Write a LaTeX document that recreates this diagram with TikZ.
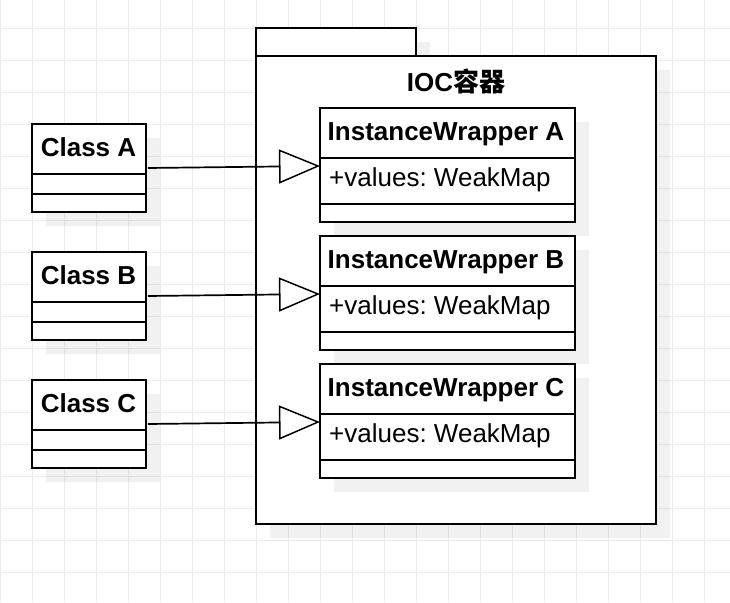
\documentclass[tikz,border=0pt]{standalone}
\usepackage{fontspec}
\setmainfont{Liberation Sans}
\newfontfamily\cjk{Noto Sans CJK SC}
\usetikzlibrary{arrows.meta}
\definecolor{gridc}{HTML}{EBEBEB}
\frenchspacing
\tikzset{
  umlbox/.style={draw, line width=2pt, fill=white, inner sep=0pt, outer sep=0pt, anchor=north west},
  shadowbox/.style={fill=black, fill opacity=0.055},
  divline/.style={line width=2pt},
  lblb/.style={font=\fontsize{26}{30}\selectfont\bfseries, inner sep=0pt},
  lblr/.style={font=\fontsize{26}{30}\selectfont, inner sep=0pt},
  inh/.style={line width=1.7pt, -{Triangle[open, length=41pt, width=34pt, line width=1.5pt]}},
}
\begin{document}
\begin{tikzpicture}[x=1pt,y=-1pt]
\useasboundingbox (0,0) rectangle (730,602);
\fill[white] (0,0) rectangle (730,602);
% grid
\foreach \x in {0,32,...,704} \draw[gridc, line width=1pt] (\x+0.5,0) -- (\x+0.5,602);
\foreach \y in {28,60,...,588} \draw[gridc, line width=1pt] (0,\y+0.5) -- (730,\y+0.5);
% shadows
\fill[shadowbox] (270,42) rectangle (430,70);
\fill[shadowbox] (270,70) rectangle (670,538);
\foreach \y in {124,252,380} \fill[shadowbox] (46,\y+14) rectangle (160,\y+102);
% package
\node[umlbox, minimum width=160pt, minimum height=28pt] (tab) at (256,28) {};
\node[umlbox, minimum width=400pt, minimum height=468pt] (pkg) at (256,56) {};
\node[lblb, anchor=base] (pkglbl) at (456,91) {IOC{\cjk\bfseries 容器}};
% wrapper shadows
\foreach \y in {108,236,364} \fill[shadowbox] (334,\y+14) rectangle (589,\y+128);
% classes
\foreach \n/\y/\t in {ca/124/A, cb/252/B, cc/380/C}{
  \node[umlbox, minimum width=114pt, minimum height=88pt] (\n) at (32,\y) {};
  \draw[divline] ([yshift=-50pt]\n.north west) -- ([yshift=-50pt]\n.north east);
  \draw[divline] ([yshift=-70pt]\n.north west) -- ([yshift=-70pt]\n.north east);
  \node[lblb, anchor=base] (\n lbl) at (88.5,\y+32.7) {Class \t};
}
% wrappers
\foreach \n/\y/\t in {wa/108/A, wb/236/B, wc/364/C}{
  \node[umlbox, minimum width=255pt, minimum height=114pt] (\n) at (320,\y) {};
  \draw[divline] ([yshift=-50pt]\n.north west) -- ([yshift=-50pt]\n.north east);
  \draw[divline] ([yshift=-96pt]\n.north west) -- ([yshift=-96pt]\n.north east);
  \node[lblb, anchor=base west] (\n lbl) at (327.5,\y+32.7) {InstanceWrapper \t};
  \node[lblr, anchor=base west] (\n attr) at (329,\y+78.7) {+values: WeakMap};
}
% inheritance connectors
\draw[inh] ([xshift=2pt]ca.east) -- ([yshift=-1pt]wa.west);
\draw[inh] ([xshift=2pt]cb.east) -- ([yshift=-1pt]wb.west);
\draw[inh] ([xshift=2pt]cc.east) -- ([yshift=-1pt]wc.west);
\end{tikzpicture}
\end{document}
